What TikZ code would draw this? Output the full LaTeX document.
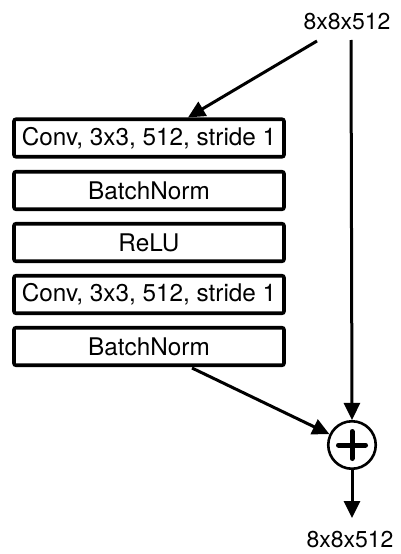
\documentclass[tikz,border=0pt]{standalone}
\usepackage{fontspec}
\setmainfont{TeX Gyre Heros}
\usetikzlibrary{arrows.meta}
\begin{document}
\begin{tikzpicture}[x=1pt,y=-1pt,
  layer/.style={draw, line width=3.6pt, rounded corners=2pt, minimum width=270pt,
    minimum height=37.5pt, inner sep=0pt, font=\fontsize{24.3}{29}\selectfont},
  dimlabel/.style={inner sep=0pt, font=\fontsize{23}{27}\selectfont},
  flow/.style={line width=3pt, -{Triangle[length=17pt,width=16pt]}},
  sumnode/.style={circle, draw, line width=2.6pt, minimum size=47.5pt, inner sep=0pt}]
\path[use as bounding box] (0,0) rectangle (400,554);

% input / output shape labels
\node[dimlabel] (in) at (347,22) {8x8x512};
\node[dimlabel] (out) at (350,540) {8x8x512};

% residual branch layers
\node[layer] (b1) at (149,138) {Conv, 3x3, 512, stride 1};
\node[layer] (b2) at (149,190.5) {BatchNorm};
\node[layer] (b3) at (149,242.5) {ReLU};
\node[layer] (b4) at (149,294.5) {Conv, 3x3, 512, stride 1};
\node[layer] (b5) at (149,346.5) {BatchNorm};

% addition node
\node[sumnode] (plus) at (352,445) {};
\draw[line width=5pt, line cap=round] ([xshift=-13.5pt]plus.center) -- ([xshift=13.5pt]plus.center);
\draw[line width=5pt, line cap=round] ([yshift=-13.5pt]plus.center) -- ([yshift=13.5pt]plus.center);

% connectors
\coordinate (split) at (317,41);
\coordinate (skiptop) at (351,40);
\coordinate (branchout) at (192,368);
\coordinate (outtip) at (352,518);
\draw[flow] (split) -- (b1.north -| 188,0);
\draw[flow] (skiptop) -- (plus.north);
\draw[flow] (branchout) -- (plus);
\draw[flow] (plus.south) -- (outtip);
\end{tikzpicture}
\end{document}
